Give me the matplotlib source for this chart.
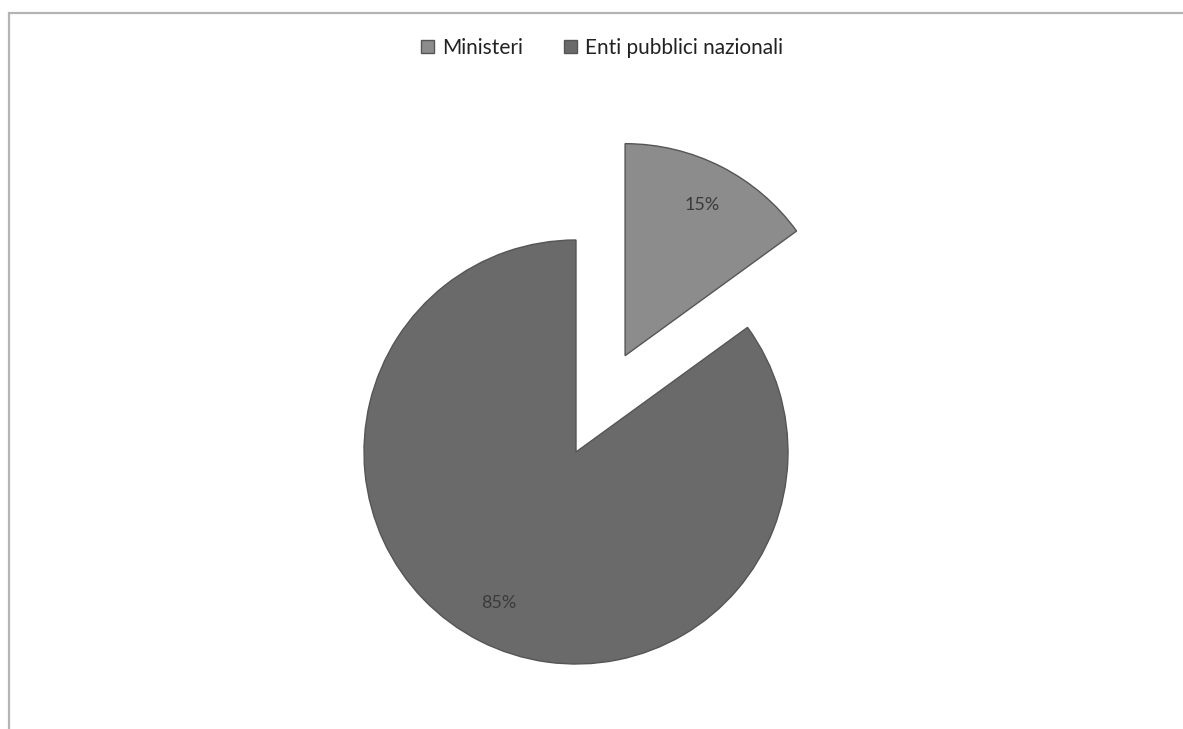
import numpy as np
import matplotlib
matplotlib.use('Agg')
import matplotlib.pyplot as plt
from matplotlib.patches import Rectangle

plt.rcParams['font.family'] = ['Lato', 'DejaVu Sans']

# dati
categorie = ['Ministeri', 'Enti pubblici nazionali']
valori = [15, 85]
colori = ['#8c8c8c', '#6a6a6a']
esplosione = [0.51, 0]   # frazione del raggio

W, H = 1183, 729
raggio = 212
fig = plt.figure(figsize=(W / 100, H / 100), dpi=100)
ax = fig.add_axes([0, 0, 1, 1])

# cornice (tagliata a destra e in basso)
ax.add_patch(Rectangle((9, -20), W + 40, H - 13 + 20, fill=False,
                       edgecolor='#b4b4b4', linewidth=1.6))

wedges, texts, autotexts = ax.pie(valori, colors=colori,
                                  explode=[e * raggio for e in esplosione],
                                  startangle=90, counterclock=False,
                                  radius=raggio, center=(576, H - 452),
                                  autopct='%d%%', pctdistance=0.8,
                                  wedgeprops=dict(edgecolor='#555555', linewidth=1),
                                  textprops=dict(fontsize=13, color='#3a3a3a'),
                                  frame=True)
ax.set_xlim(0, W)
ax.set_ylim(0, H)
ax.set_aspect('equal')
ax.axis('off')

leg = fig.legend(wedges, categorie, loc='center', ncol=2,
                 bbox_to_anchor=(0.509, 1 - 48 / H), frameon=False,
                 fontsize=15, handlelength=0.6, handleheight=0.6,
                 handletextpad=0.4, columnspacing=2.0, labelcolor='#222222')

fig.savefig('out.png', dpi=100)
